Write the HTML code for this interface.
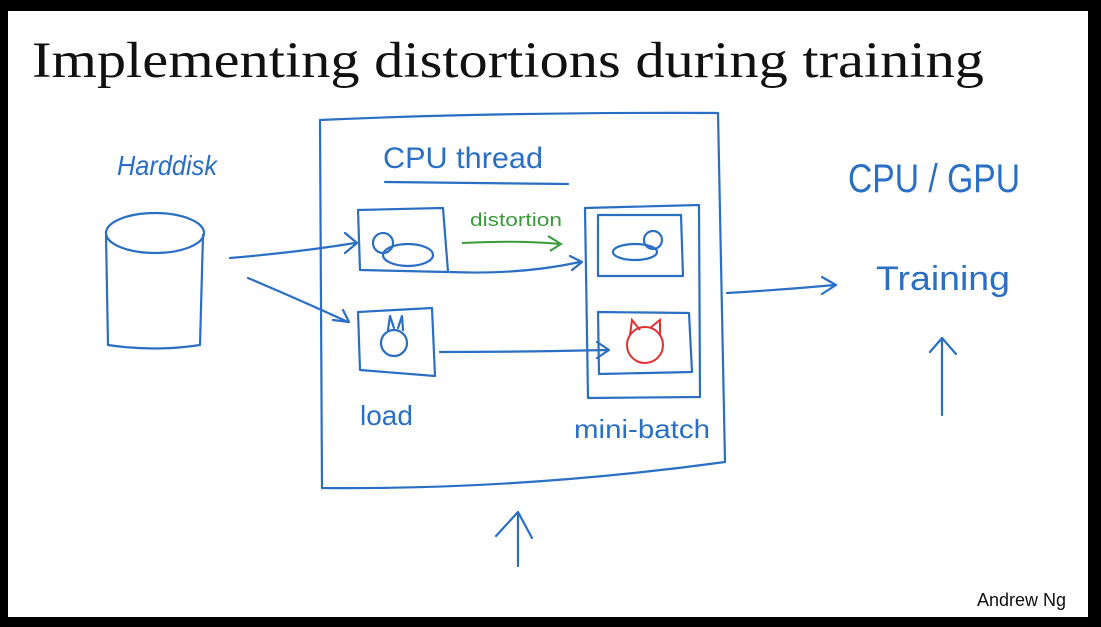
<!DOCTYPE html>
<html><head><style>
html,body{margin:0;padding:0;background:#000;}
svg{display:block;}
</style></head><body>
<svg width="1101" height="627" viewBox="0 0 1101 627" xmlns="http://www.w3.org/2000/svg">
<rect x="0" y="0" width="1101" height="627" fill="#000"/>
<rect x="8" y="11" width="1080" height="606" fill="#fff"/>
<text x="32" y="77" font-family="Liberation Serif, serif" font-size="51" fill="#111" textLength="952" lengthAdjust="spacingAndGlyphs">Implementing distortions during training</text>
<g fill="none" stroke="#2a6fc4" stroke-width="2.2" stroke-linecap="round" stroke-linejoin="round">
<ellipse cx="155" cy="233" rx="49" ry="20"/>
<path d="M106 235 L108 345 Q155 352 200 345 L203 235"/>
<path d="M320 120 Q500 112 718 113 L725 462 Q520 490 322 488 Z"/>
<path d="M385 182 L568 184"/>
<path d="M358 210 L443 208 L448 272 L360 270 Z"/>
<ellipse cx="408" cy="255" rx="25" ry="11"/>
<circle cx="383" cy="243" r="10"/>
<path d="M358 312 L432 308 L435 376 L360 370 Z"/>
<circle cx="394" cy="343" r="13"/>
<path d="M388 330 L390 316 L394 328 M398 328 L402 316 L403 330"/>
<path d="M585 208 L699 205 L700 397 L588 398 Z"/>
<path d="M598 215 L681 215 L683 276 L598 276 Z"/>
<ellipse cx="635" cy="252" rx="22" ry="8"/>
<circle cx="653" cy="240" r="9"/>
<path d="M598 312 L689 313 L692 372 L599 374 Z"/>
<path d="M230 258 Q300 252 355 243 M345 233 L357 243 L345 253"/>
<path d="M248 278 Q300 300 348 322 M333 320 L349 322 L343 310"/>
<path d="M450 272 Q520 275 580 262 M570 256 L582 262 L572 270"/>
<path d="M440 352 Q520 352 607 350 M597 342 L609 350 L597 358"/>
<path d="M727 293 Q780 290 835 285 M822 277 L836 285 L822 294"/>
<path d="M942 415 L942 338 M930 352 L942 338 L956 354"/>
<path d="M518 566 L518 512 M496 536 L518 512 L532 538"/>
</g>
<path d="M462 243 Q520 240 560 244 M548 236 L561 244 L550 251" fill="none" stroke="#3a9a3a" stroke-width="2"/>
<g fill="none" stroke="#e03030" stroke-width="2"><circle cx="645" cy="345" r="18"/><path d="M630 335 L632 320 L640 330 M650 328 L660 320 L660 336"/></g>
<g font-family="Liberation Sans, sans-serif" fill="#2a6fc4">
<text x="117" y="175" font-size="28" font-style="italic" textLength="100" lengthAdjust="spacingAndGlyphs">Harddisk</text>
<text x="383" y="168" font-size="30" textLength="160" lengthAdjust="spacingAndGlyphs">CPU  thread</text>
<text x="360" y="425" font-size="28">load</text>
<text x="574" y="438" font-size="26" textLength="136" lengthAdjust="spacingAndGlyphs">mini-batch</text>
<text x="848" y="192" font-size="40" textLength="172" lengthAdjust="spacingAndGlyphs">CPU / GPU</text>
<text x="876" y="290" font-size="34" textLength="134" lengthAdjust="spacingAndGlyphs">Training</text>
</g>
<text x="470" y="226" font-family="Liberation Sans, sans-serif" font-size="18" fill="#3a9a3a" textLength="92" lengthAdjust="spacingAndGlyphs">distortion</text>
<text x="977" y="606" font-family="Liberation Sans, sans-serif" font-size="18" fill="#111">Andrew Ng</text>
</svg>
</body></html>
